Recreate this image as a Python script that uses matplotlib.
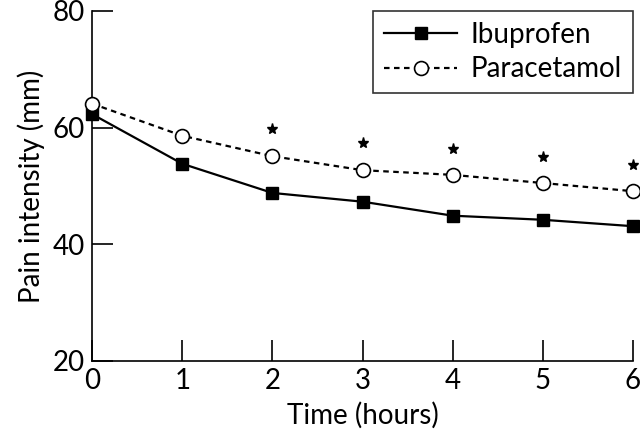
import matplotlib

matplotlib.use("Agg")
import matplotlib.pyplot as plt

hours = [0, 1, 2, 3, 4, 5, 6]
ibuprofen = [62.3, 53.8, 48.8, 47.3, 44.9, 44.2, 43.1]
paracetamol = [64.1, 58.6, 55.1, 52.7, 51.9, 50.5, 49.1]
star_hours = [2, 3, 4, 5, 6]
star_y = [59.8, 57.4, 56.4, 55.0, 53.6]

plt.rcParams["font.family"] = ["Lato", "DejaVu Sans"]

fig = plt.figure(figsize=(6.4, 4.37), dpi=100)
ax = fig.add_axes([0.144, 0.174, 0.845, 0.801])

ax.plot(hours, ibuprofen, "-", color="black", lw=1.6, marker="s", ms=9,
        mfc="black", mec="black", label="Ibuprofen", clip_on=False, zorder=3)
ax.plot(hours, paracetamol, color="black", lw=1.6, ls=(0, (2.5, 2)), marker="o", ms=10,
        mfc="white", mec="black", mew=1.2, label="Paracetamol", clip_on=False, zorder=4)
ax.plot(star_hours, star_y, "*", color="black", ms=8, ls="none", clip_on=False)

ax.set_xlim(0, 6)
ax.set_ylim(20, 80)
ax.set_xticks(hours)
ax.set_yticks([20, 40, 60, 80])
for s in ["top", "right"]:
    ax.spines[s].set_visible(False)
for s in ["left", "bottom"]:
    ax.spines[s].set_linewidth(1.2)
ax.tick_params(direction="in", length=15, width=1.2, labelsize=20, pad=5)
ax.set_xlabel("Time (hours)", fontsize=20, labelpad=6)
ax.set_ylabel("Pain intensity (mm)", fontsize=20, labelpad=6)

leg = ax.legend(loc="upper right", fontsize=20, frameon=True, fancybox=False,
                edgecolor="black", handlelength=2.6, handletextpad=0.5, borderpad=0.4,
                labelspacing=0.3, borderaxespad=0.0, bbox_to_anchor=(1.0, 1.0))
leg.get_frame().set_linewidth(1.2)

fig.savefig("out.png", dpi=100)
